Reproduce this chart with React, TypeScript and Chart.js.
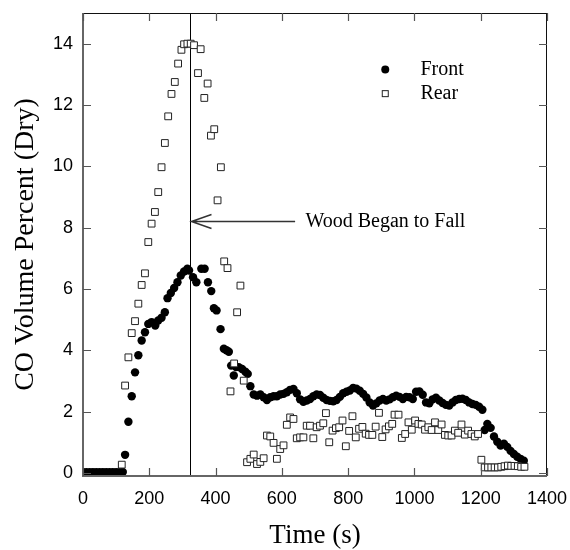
import React, { useEffect, useRef } from 'react';
import { Chart, registerables } from 'chart.js';

Chart.register(...registerables);

// ---- data ----
const frontTime = [
  0, 10, 20, 30, 40, 50, 60, 70, 80, 90, 100, 110, 120,
  127, 137, 147, 157, 167, 177, 187, 197, 207, 218, 227, 237, 247, 255, 265, 275, 285, 295, 305, 315,
  320, 332, 342, 357, 367, 377, 387, 395, 403, 415, 425, 433, 440, 447, 455, 462, 470, 480, 490, 497,
  505, 515, 525, 535, 545, 555, 565, 575, 585, 595, 605, 615, 625, 635, 645, 655, 665, 675, 685, 695,
  705, 715, 725, 735, 745, 755, 765, 775, 785, 795, 805, 815, 825, 835, 845, 855, 865, 875, 885, 895,
  905, 915, 925, 935, 945, 955, 965, 975, 985, 995, 1005, 1015, 1025, 1035, 1045, 1055, 1065, 1075,
  1085, 1095, 1105, 1115, 1125, 1135, 1145, 1155, 1165, 1175, 1185, 1195, 1205, 1212, 1220, 1230,
  1240, 1250, 1260, 1270, 1280, 1290, 1300, 1310, 1320, 1330,
];
const frontCO = [
  0.02, 0.02, 0.02, 0.02, 0.02, 0.02, 0.02, 0.02, 0.02, 0.02, 0.02, 0.02, 0.03,
  0.59, 1.67, 2.5, 3.28, 3.84, 4.32, 4.59, 4.86, 4.92, 4.81, 4.97, 5.06, 5.24, 5.7, 5.87, 6.03, 6.22, 6.44, 6.57, 6.66,
  6.6, 6.38, 6.22, 6.66, 6.66, 6.22, 5.93, 5.37, 5.3, 4.69, 4.05, 4.0, 3.95, 3.5, 3.18, 3.45, 3.45, 3.39, 3.3, 3.23,
  2.83, 2.56, 2.52, 2.56, 2.47, 2.38, 2.47, 2.5, 2.5, 2.56, 2.58, 2.63, 2.71, 2.74, 2.6, 2.4, 2.32, 2.36, 2.41, 2.5,
  2.56, 2.54, 2.45, 2.38, 2.35, 2.34, 2.38, 2.48, 2.6, 2.65, 2.69, 2.77, 2.75, 2.68, 2.58, 2.46, 2.3, 2.2, 2.27, 2.36,
  2.41, 2.36, 2.4, 2.47, 2.52, 2.48, 2.41, 2.48, 2.47, 2.41, 2.65, 2.66, 2.55, 2.3, 2.27, 2.4, 2.45, 2.36,
  2.28, 2.22, 2.2, 2.3, 2.38, 2.41, 2.42, 2.38, 2.3, 2.25, 2.22, 2.16, 2.06, 1.4, 1.6, 1.47,
  1.19, 1.02, 0.89, 0.95, 0.85, 0.72, 0.62, 0.53, 0.46, 0.4,
];
const rearTime = [
  117, 127, 137, 147, 157, 167, 177, 187, 197, 207, 217, 227, 237, 247, 257, 267, 277, 287, 297, 305,
  315, 325, 335, 347, 355, 366, 376, 386, 396, 406, 416, 426, 436, 445, 456, 465, 475, 485,
  495, 505, 515, 525, 535, 545, 555, 565, 575, 585, 595, 605, 615, 625, 635, 645, 655, 665, 675, 685,
  695, 705, 715, 725, 733, 743, 753, 763, 773, 783, 793, 803, 813, 823, 833, 843, 853, 863, 873, 883,
  893, 903, 913, 923, 933, 940, 952, 962, 972, 982, 992, 1002, 1012, 1022, 1032, 1042, 1052, 1062,
  1072, 1082, 1092, 1102, 1112, 1122, 1132, 1142, 1152, 1162, 1172, 1182, 1192, 1202, 1212, 1222,
  1232, 1242, 1252, 1262, 1272, 1282, 1292, 1302, 1312, 1322, 1332,
];
const rearCO = [
  0.27, 2.85, 3.77, 4.56, 4.95, 5.52, 6.13, 6.51, 7.53, 8.13, 8.51, 9.16, 9.97, 10.76, 11.63, 12.36, 12.75, 13.35, 13.8, 13.98,
  14.0, 14.0, 13.95, 13.04, 13.82, 12.23, 12.7, 11.0, 11.21, 8.89, 9.97, 6.9, 6.68, 2.66, 3.57, 5.24, 6.11, 3.01,
  0.35, 0.46, 0.6, 0.29, 0.36, 0.48, 1.22, 1.19, 0.98, 0.46, 0.78, 0.9, 1.57, 1.81, 1.76, 1.13, 1.16, 1.16, 1.54, 1.54,
  1.13, 1.49, 1.54, 1.62, 1.95, 1.0, 1.38, 1.46, 1.49, 1.71, 0.87, 1.37, 1.85, 1.16, 1.44, 1.5, 1.28, 1.24, 1.24, 1.51,
  1.96, 1.17, 1.42, 1.52, 1.6, 1.9, 1.9, 1.14, 1.27, 1.65, 1.41, 1.71, 1.6, 1.58, 1.41, 1.49, 1.4, 1.65,
  1.4, 1.58, 1.24, 1.22, 1.22, 1.38, 1.31, 1.58, 1.25, 1.38, 1.27, 1.19, 1.27, 0.43, 0.18, 0.18,
  0.18, 0.18, 0.18, 0.2, 0.22, 0.24, 0.23, 0.23, 0.22, 0.2, 0.2,
];
const seriesLabels = ['Front', 'Rear'];
const xTickValues = [0, 200, 400, 600, 800, 1000, 1200, 1400];
const yTickValues = [0, 2, 4, 6, 8, 10, 12, 14];
const xTitle = 'Time (s)';
const yTitle = 'CO Volume Percent (Dry)';
const eventTime = 323;
const eventCO = 8.21;
const arrowTailTime = 640;
const annotationTime = 671;
const annotationText = 'Wood Began to Fall';
const legendTime = 912;
const legendTextTime = 1018;
const legendCO = [13.16, 12.37];

const SERIF = '"Liberation Serif", "Times New Roman", serif';
const SANS = '"Liberation Sans", Arial, sans-serif';

const decorations = {
  id: 'decorations',
  beforeDatasetsDraw(chart: any) {
    const { ctx, chartArea: a, scales } = chart;
    const x = scales.x;
    const ex = Math.round(x.getPixelForValue(eventTime)) + 0.5;
    ctx.save();
    ctx.strokeStyle = '#000';
    ctx.lineWidth = 1;
    ctx.beginPath();
    ctx.moveTo(ex, a.top);
    ctx.lineTo(ex, a.bottom);
    ctx.stroke();
    ctx.restore();
  },
  afterDatasetsDraw(chart: any) {
    const { ctx, chartArea: a, scales } = chart;
    const x = scales.x;
    const y = scales.y;
    ctx.save();
    // frame: top/right thin black, left/bottom gray
    ctx.strokeStyle = '#111';
    ctx.lineWidth = 1;
    ctx.beginPath();
    ctx.moveTo(a.left, a.top + 0.5);
    ctx.lineTo(a.right, a.top + 0.5);
    ctx.moveTo(a.right - 0.5, a.top);
    ctx.lineTo(a.right - 0.5, a.bottom);
    ctx.stroke();
    ctx.strokeStyle = '#666';
    ctx.lineWidth = 2;
    ctx.beginPath();
    ctx.moveTo(a.left, a.top);
    ctx.lineTo(a.left, a.bottom);
    ctx.lineTo(a.right, a.bottom);
    ctx.stroke();
    // inward ticks
    const tl = 8;
    ctx.strokeStyle = '#555';
    ctx.lineWidth = 1.2;
    ctx.beginPath();
    xTickValues.forEach((v) => {
      const px = Math.round(x.getPixelForValue(v)) + 0.5;
      ctx.moveTo(px, a.bottom);
      ctx.lineTo(px, a.bottom - tl);
      ctx.moveTo(px, a.top);
      ctx.lineTo(px, a.top + tl);
    });
    yTickValues.forEach((v) => {
      const py = Math.round(y.getPixelForValue(v)) + 0.5;
      ctx.moveTo(a.left, py);
      ctx.lineTo(a.left + tl, py);
      ctx.moveTo(a.right, py);
      ctx.lineTo(a.right - tl, py);
    });
    ctx.stroke();

    // arrow
    const tipX = Math.round(x.getPixelForValue(eventTime)) + 0.5;
    const ay = Math.round(y.getPixelForValue(eventCO)) + 0.5;
    const tailX = x.getPixelForValue(arrowTailTime);
    ctx.strokeStyle = '#333';
    ctx.lineWidth = 1.5;
    ctx.beginPath();
    ctx.moveTo(tipX + 1, ay);
    ctx.lineTo(tailX, ay);
    ctx.moveTo(tipX + 21, ay - 7);
    ctx.lineTo(tipX + 1, ay);
    ctx.lineTo(tipX + 21, ay + 7);
    ctx.stroke();
    ctx.fillStyle = '#000';
    ctx.font = `20px ${SERIF}`;
    ctx.textAlign = 'left';
    ctx.textBaseline = 'middle';
    ctx.fillText(annotationText, x.getPixelForValue(annotationTime), ay);

    // legend
    const lx = x.getPixelForValue(legendTime);
    const tx = x.getPixelForValue(legendTextTime);
    const ly0 = y.getPixelForValue(legendCO[0]);
    const ly1 = y.getPixelForValue(legendCO[1]);
    ctx.fillStyle = '#000';
    ctx.beginPath();
    ctx.arc(lx, ly0, 4, 0, Math.PI * 2);
    ctx.fill();
    ctx.fillStyle = '#fff';
    ctx.strokeStyle = '#222';
    ctx.lineWidth = 1;
    ctx.fillRect(lx - 3, ly1 - 3, 6, 6);
    ctx.strokeRect(lx - 3, ly1 - 3, 6, 6);
    ctx.fillStyle = '#000';
    ctx.font = `20px ${SERIF}`;
    ctx.fillText(seriesLabels[0], tx, ly0);
    ctx.fillText(seriesLabels[1], tx, ly1);
    ctx.restore();
  },
};

export default function App() {
  const ref = useRef<HTMLCanvasElement | null>(null);
  useEffect(() => {
    if (!ref.current) return;
    const chart = new Chart(ref.current, {
      type: 'scatter',
      data: {
        datasets: [
          {
            label: seriesLabels[1],
            data: rearTime.map((t, i) => ({ x: t, y: rearCO[i] })),
            pointStyle: 'rect',
            pointRadius: 4.8,
            backgroundColor: '#fff',
            borderColor: '#222',
            borderWidth: 1,
            order: 0,
          },
          {
            label: seriesLabels[0],
            data: frontTime.map((t, i) => ({ x: t, y: frontCO[i] })),
            pointStyle: 'circle',
            pointRadius: 4.2,
            backgroundColor: '#000',
            borderColor: '#000',
            borderWidth: 0,
            order: 1,
          },
        ],
      },
      options: {
        responsive: false,
        animation: false,
        events: [],
        layout: { padding: { top: 13, right: 23, left: 0, bottom: 0 } },
        plugins: { legend: { display: false }, tooltip: { enabled: false } },
        scales: {
          x: {
            type: 'linear',
            min: 0,
            max: 1400,
            grid: { display: false, drawTicks: false },
            border: { display: false },
            afterBuildTicks: (s: any) => {
              s.ticks = xTickValues.map((v) => ({ value: v }));
            },
            afterFit: (s: any) => {
              s.height = 74;
              s.paddingLeft = 0;
              s.paddingRight = 0;
            },
            ticks: {
              autoSkip: false,
              maxRotation: 0,
              padding: 12,
              color: '#000',
              font: { family: SANS, size: 18 },
              callback: (v: any) => String(v),
            },
            title: {
              display: true,
              text: xTitle,
              color: '#000',
              font: { family: SERIF, size: 27, lineHeight: 1 },
              padding: { top: 0, bottom: 1 },
            },
          },
          y: {
            type: 'linear',
            min: -0.1,
            max: 15,
            grid: { display: false, drawTicks: false },
            border: { display: false },
            afterBuildTicks: (s: any) => {
              s.ticks = yTickValues.map((v) => ({ value: v }));
            },
            afterFit: (s: any) => {
              s.width = 83;
              s.paddingTop = 0;
              s.paddingBottom = 0;
            },
            ticks: {
              autoSkip: false,
              padding: 10,
              color: '#000',
              font: { family: SANS, size: 18 },
              callback: (v: any) => String(v),
            },
            title: {
              display: true,
              text: yTitle,
              color: '#000',
              font: { family: SERIF, size: 28, lineHeight: 1 },
              padding: { top: 12, bottom: 0 },
            },
          },
        },
      },
      plugins: [decorations],
    } as any);
    return () => chart.destroy();
  }, []);
  return (
    <div style={{ position: 'absolute', left: 0, top: 0, width: 570, height: 550, background: '#fff' }}>
      <canvas ref={ref} width={570} height={550} />
    </div>
  );
}
